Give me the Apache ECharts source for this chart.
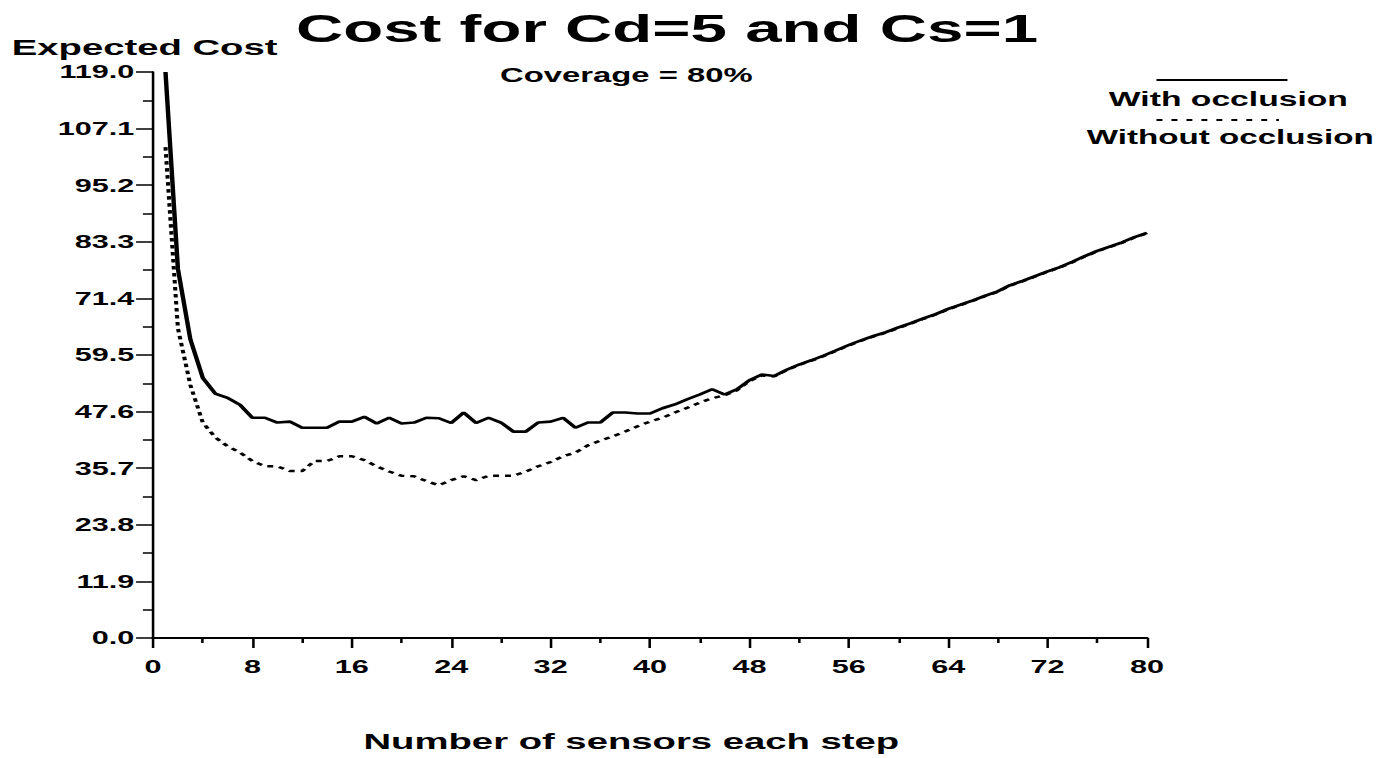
<!DOCTYPE html>
<html>
<head>
<meta charset="utf-8">
<script src="https://cdn.jsdelivr.net/npm/echarts@6/dist/echarts.min.js"></script>
<style>
  html, body { margin: 0; padding: 0; background: #fff; overflow: hidden; }
  /* the source picture is stretched sideways, so draw narrow and widen it */
  #chart { width: 812px; height: 758px; transform: scaleX(1.70074); transform-origin: 0 0; }
</style>
</head>
<body>
<div id="chart"></div>
<script>
const sensors = [
  1, 2, 3, 4, 5, 6, 7, 8, 9, 10, 11, 12, 13, 14, 15, 16, 17, 18, 19, 20,
  21, 22, 23, 24, 25, 26, 27, 28, 29, 30, 31, 32, 33, 34, 35, 36, 37, 38, 39, 40,
  41, 42, 43, 44, 45, 46, 47, 48, 49, 50, 51, 52, 53, 54, 55, 56, 57, 58, 59, 60,
  61, 62, 63, 64, 65, 66, 67, 68, 69, 70, 71, 72, 73, 74, 75, 76, 77, 78, 79, 80
];

const withOcclusion = [
  119.0, 77.6, 62.8, 54.7, 51.4, 50.5, 49.0, 46.3, 46.3, 45.3,
  45.5, 44.2, 44.2, 44.2, 45.5, 45.5, 46.5, 45.1, 46.3, 45.1,
  45.3, 46.3, 46.2, 45.2, 47.4, 45.2, 46.3, 45.3, 43.4, 43.4,
  45.3, 45.5, 46.3, 44.2, 45.3, 45.3, 47.4, 47.4, 47.2, 47.2,
  48.3, 49.1, 50.2, 51.2, 52.3, 51.2, 52.3, 54.2, 55.4, 55.1,
  56.4, 57.5, 58.4, 59.4, 60.5, 61.6, 62.6, 63.5, 64.3, 65.3,
  66.2, 67.2, 68.1, 69.2, 70.1, 71.0, 72.0, 72.9, 74.2, 75.1,
  76.1, 77.1, 78.0, 79.1, 80.3, 81.4, 82.3, 83.2, 84.3, 85.2
];

const withoutOcclusion = [
  103.2, 65.1, 53.2, 45.3, 42.2, 40.3, 39.0, 37.2, 36.1, 36.1,
  35.1, 35.1, 37.2, 37.2, 38.2, 38.2, 37.4, 36.1, 35.0, 34.1,
  34.0, 33.0, 32.1, 33.2, 34.0, 33.2, 34.1, 34.1, 34.1, 35.0,
  36.1, 37.0, 38.2, 39.0, 40.5, 41.5, 42.4, 43.4, 44.5, 45.5,
  46.3, 47.4, 48.4, 49.5, 50.4, 51.0, 52.1, 54.0, 55.2, 55.0,
  56.3, 57.4, 58.3, 59.3, 60.4, 61.5, 62.5, 63.4, 64.2, 65.2,
  66.1, 67.1, 68.0, 69.1, 70.0, 70.9, 71.9, 72.8, 74.1, 75.0,
  76.0, 77.0, 77.9, 79.0, 80.2, 81.3, 82.2, 83.1, 84.2, 85.1
];

const yTicks = [0.0, 11.9, 23.8, 35.7, 47.6, 59.5, 71.4, 83.3, 95.2, 107.1, 119.0];
const xTicks = [0, 8, 16, 24, 32, 40, 48, 56, 64, 72, 80];

const FONT = "'Liberation Sans', Arial, sans-serif";

const chart = echarts.init(document.getElementById('chart'), null, { renderer: 'svg' });

chart.setOption({
  animation: false,
  backgroundColor: '#fff',
  title: [
    {
      text: 'Cost for Cd=5 and Cs=1',
      left: 169,
      top: 4,
      textStyle: { fontFamily: FONT, fontWeight: 'bold', fontSize: 38.5, color: '#000' }
    },
    {
      text: 'Coverage = 80%',
      left: 289,
      top: 61,
      textStyle: { fontFamily: FONT, fontWeight: 'bold', fontSize: 19.3, color: '#000' }
    }
  ],
  legend: [
    {
      data: ['With occlusion'],
      left: 641,
      top: 84,
      itemWidth: 0,
      itemHeight: 0,
      selectedMode: false,
      textStyle: { fontFamily: FONT, fontWeight: 'bold', fontSize: 19.8, color: '#000' }
    },
    {
      data: ['Without occlusion'],
      left: 628,
      top: 122,
      itemWidth: 0,
      itemHeight: 0,
      selectedMode: false,
      textStyle: { fontFamily: FONT, fontWeight: 'bold', fontSize: 19.5, color: '#000' }
    }
  ],
  // legend sample strokes sit above the names in the original
  graphic: [
    {
      type: 'line',
      shape: { x1: 680, y1: 80, x2: 757, y2: 80 },
      style: { stroke: '#000', lineWidth: 2 }
    },
    {
      type: 'line',
      shape: { x1: 680, y1: 120, x2: 752, y2: 120 },
      style: { stroke: '#000', lineWidth: 2, lineDash: [3.5, 5.3] }
    }
  ],
  grid: {
    left: 90,
    right: 137.6,
    top: 72,
    bottom: 115,
    containLabel: false
  },
  xAxis: {
    type: 'value',
    min: xTicks[0],
    max: xTicks[xTicks.length - 1],
    interval: 8,
    name: 'Number of sensors each step',
    nameLocation: 'middle',
    nameGap: 92,
    nameTextStyle: {
      fontFamily: FONT, fontWeight: 'bold', fontSize: 22.5, color: '#000',
      padding: [0, 22, 0, 0]
    },
    axisLine: { onZero: false, lineStyle: { color: '#000', width: 2 } },
    axisTick: { length: 10, lineStyle: { color: '#000', width: 1.5 } },
    minorTick: { show: true, splitNumber: 2, length: 5, lineStyle: { color: '#000', width: 1.5 } },
    axisLabel: {
      margin: 20,
      fontFamily: FONT,
      fontWeight: 'bold',
      fontSize: 18,
      color: '#000'
    },
    splitLine: { show: false }
  },
  yAxis: {
    type: 'value',
    min: yTicks[0],
    max: yTicks[yTicks.length - 1],
    interval: 11.9,
    name: 'Expected Cost',
    nameLocation: 'end',
    nameGap: 13,
    nameTextStyle: {
      fontFamily: FONT, fontWeight: 'bold', fontSize: 22.5, color: '#000',
      padding: [0, 10, 0, 0]
    },
    axisLine: { show: true, lineStyle: { color: '#000', width: 1.5 } },
    axisTick: { length: 10, lineStyle: { color: '#000', width: 1.5 } },
    minorTick: { show: true, splitNumber: 2, length: 6, lineStyle: { color: '#000', width: 1.5 } },
    axisLabel: {
      margin: 11,
      fontFamily: FONT,
      fontWeight: 'bold',
      fontSize: 18,
      color: '#000',
      formatter: (v) => v.toFixed(1)
    },
    splitLine: { show: false }
  },
  series: [
    {
      name: 'With occlusion',
      type: 'line',
      data: sensors.map((s, i) => [s, withOcclusion[i]]),
      showSymbol: false,
      symbol: 'none',
      lineStyle: { color: '#000', width: 2.6 },
      itemStyle: { color: '#000' },
      z: 3
    },
    {
      name: 'Without occlusion',
      type: 'line',
      data: sensors.map((s, i) => [s, withoutOcclusion[i]]),
      showSymbol: false,
      symbol: 'none',
      lineStyle: { color: '#000', width: 2.4, type: [3.5, 3.5] },
      itemStyle: { color: '#000' },
      z: 2
    }
  ]
});
</script>
</body>
</html>
